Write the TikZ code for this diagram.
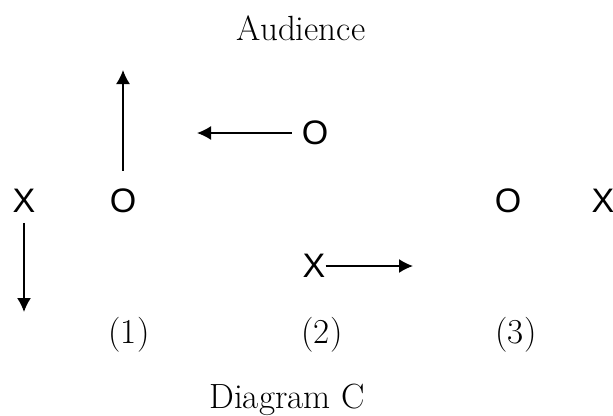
\documentclass[tikz,border=0pt]{standalone}
\usepackage{fontspec}
\newfontfamily\markfont{Liberation Sans}
\usepackage{tikz}
\usetikzlibrary{arrows.meta}
\tikzstyle{player} = [font=\markfont\fontsize{34}{40}\selectfont, inner sep=2pt]
\tikzstyle{caption} = [font=\fontsize{35}{42}\selectfont, inner sep=0pt]
\tikzstyle{move} = [draw, line width=1.6pt, -{Latex[length=14pt,width=14pt]}]

\begin{document}
\begin{tikzpicture}[x=1pt,y=-1pt]
		\useasboundingbox (0,0) rectangle (613,415);
		\node[caption] (aud) at (301,28) {Audience};
		% (1)
		\node[player] (xa) at (24,201) {X};
		\node[player] (oa) at (123,201) {O};
		\coordinate (tipup) at (123,70);
		\coordinate (tipdown) at (24,312);
		\draw[move, shorten <=16pt] (oa) -- (tipup);
		\draw[move, shorten <=8pt] (xa) -- (tipdown);
		% (2)
		\node[player] (ob) at (315,133) {O};
		\node[player] (xb) at (314,266) {X};
		\coordinate (tipleft) at (197,133);
		\coordinate (tipright) at (413,266);
		\draw[move, shorten <=8pt] (ob) -- (tipleft);
		\draw[move, shorten <=-2pt] (xb) -- (tipright);
		% (3)
		\node[player] (oc) at (508,201) {O};
		\node[player] (xc) at (603,201) {X};
		\node[caption] (n1) at (129,335) {(1)};
		\node[caption] (n2) at (322,335) {(2)};
		\node[caption] (n3) at (516,335) {(3)};
		\node[caption] (diag) at (287,400) {Diagram C};
	\end{tikzpicture}
\end{document}
